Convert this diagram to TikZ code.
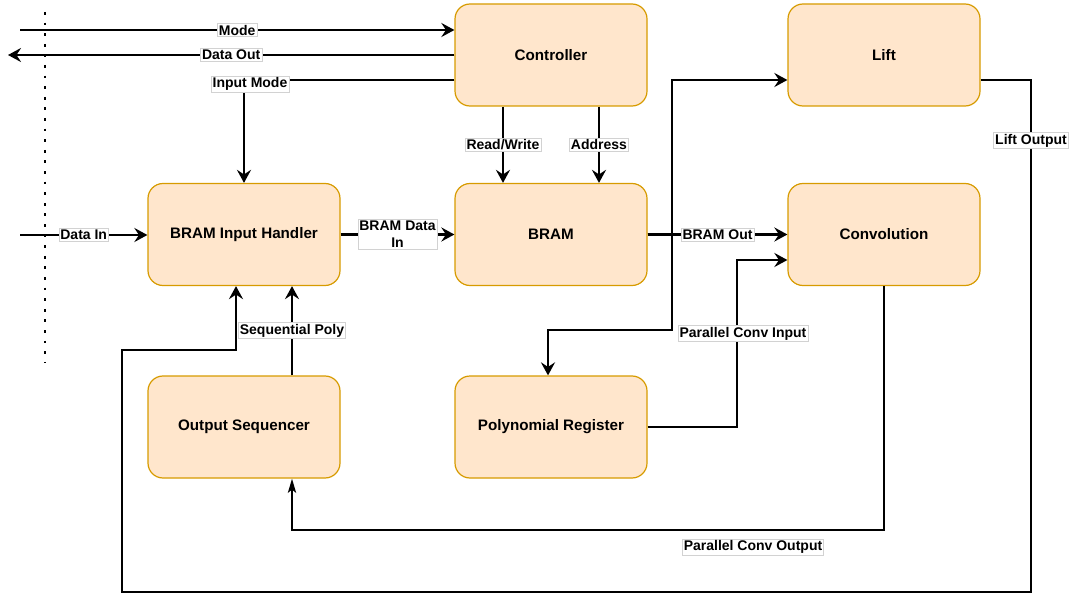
\documentclass[tikz,border=0pt]{standalone}
\usepackage{fontspec}
\setmainfont{Liberation Sans}
\usetikzlibrary{arrows.meta,calc}
\definecolor{boxfill}{HTML}{FFE6CC}
\definecolor{boxline}{HTML}{D79B00}
\begin{document}
\begin{tikzpicture}[x=1pt,y=-1pt,
  block/.style={draw=boxline, fill=boxfill, line width=1.2pt, rounded corners=15pt,
    minimum width=192pt, minimum height=102pt, inner sep=0pt,
    font=\bfseries\fontsize{15.2}{17}\selectfont},
  wire/.style={line width=2.6pt, -{Stealth[length=13pt,width=14pt,inset=4.5pt]}},
  thinwire/.style={line width=2.6pt, -{Stealth[length=14pt,width=8pt,inset=3pt]}},
  tag/.style={fill=white, draw=gray!35, line width=0.6pt, inner sep=1.5pt,
    font=\bfseries\fontsize{14}{17}\selectfont},
]
\useasboundingbox (0,0) rectangle (1072,594);

% boundary of the chip (dotted)
\draw[line width=2.8pt, dash pattern=on 2.8pt off 7.8pt] (45,12) -- (45,362);

% blocks
\node[block] (ctrl) at (551,55)    {Controller};
\node[block] (lift) at (884,55)    {Lift};
\node[block] (bih)  at (244,234.5) {BRAM Input Handler};
\node[block] (bram) at (551,234.5) {BRAM};
\node[block] (conv) at (884,234.5) {Convolution};
\node[block] (oseq) at (244,427)   {Output Sequencer};
\node[block] (preg) at (551,427)   {Polynomial Register};

% free ends outside the chip
\coordinate (modein)  at (20,30);
\coordinate (dataout) at (8,55);
\coordinate (datain)  at (20,235);

% controller interface
\draw[wire] (modein) -- node[tag] {Mode} (ctrl.west |- modein);
\draw[wire] (ctrl.west |- dataout) -- node[tag] {Data Out} (dataout);
\draw[wire] ($(ctrl.west)+(0,25)$) -- (bih.north |- 0,80)
  node[tag, xshift=6pt, yshift=-4pt] {Input Mode} -- (bih.north);
\draw[wire] ($(ctrl.south)+(-48,0)$) -- node[tag] {Read/Write} ($(bram.north)+(-48,0)$);
\draw[wire] ($(ctrl.south)+(48,0)$) -- node[tag] {Address} ($(bram.north)+(48,0)$);

% data path
\draw[wire] (datain) -- node[tag] {Data In} (bih.west |- datain);
\draw[wire] (bih.east) -- node[tag, align=center] {BRAM Data\\In} (bram.west);
\draw[wire] (bram.east) -- node[tag] {BRAM Out} (conv.west);
\draw[wire] (bram.east) -- (672,234.5) -- (672,80) -- ($(lift.west)+(0,25)$);
\draw[wire] (bram.east) -- (672,234.5) -- (672,330) -- (548,330) -- ($(preg.north)+(-3,0)$);
\draw[wire] (preg.east) -- (737,427) -- node[tag, pos=0.56, xshift=6pt] {Parallel Conv Input} (737,260)
  -- ($(conv.west)+(0,25.5)$);

% results returned to the input side
\draw[thinwire] (conv.south) -- (884,530) -- (292,530) -- ($(oseq.south)+(48,0)$);
\node[tag] (pcolbl) at (753,547) {Parallel Conv Output};
\draw[wire] ($(lift.east)+(0,25)$) -- (1031,80)
  -- node[tag, pos=0.118] {Lift Output} (1031,592) -- (122,592) -- (122,350) -- (236,350)
  -- ($(bih.south)+(-8,0)$);
\draw[wire] ($(oseq.north)+(48,0)$) -- node[tag] {Sequential Poly} ($(bih.south)+(48,0)$);
\end{tikzpicture}
\end{document}
